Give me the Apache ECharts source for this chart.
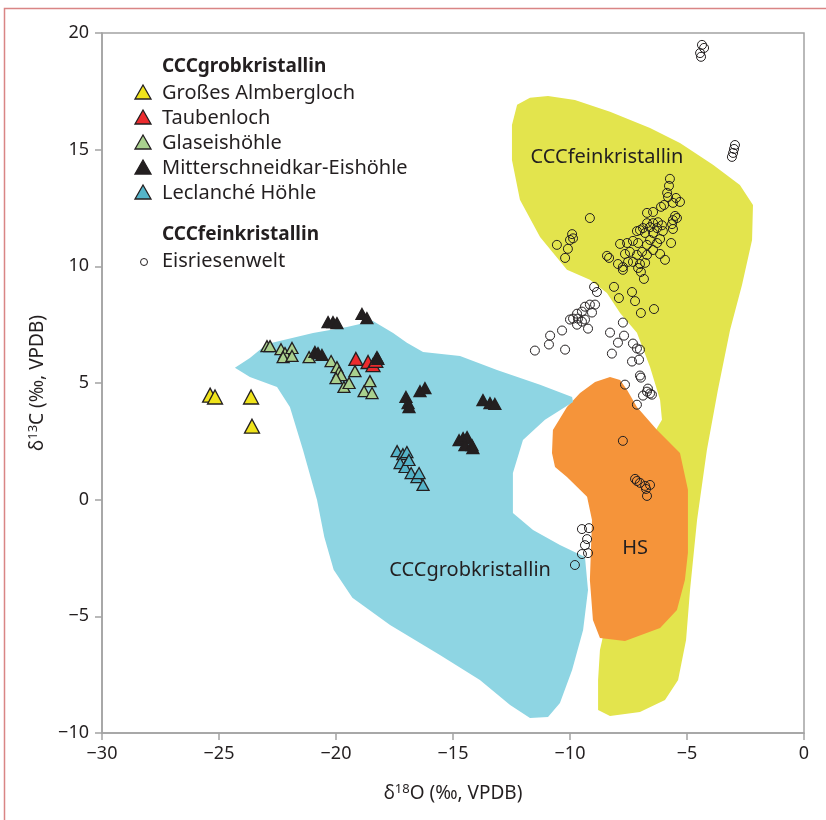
<!DOCTYPE html>
<html><head><meta charset="utf-8">
<script src="https://cdn.jsdelivr.net/npm/echarts@6/dist/echarts.min.js"></script>
<style>html,body{margin:0;padding:0;background:#fff}#c{width:826px;height:820px}</style>
</head><body><div id="c"></div>
<script>
// ---- tick definitions ----
const xTicks = [-30, -25, -20, -15, -10, -5, 0];
const yTicks = [-10, -5, 0, 5, 10, 15, 20];

// ---- regions (data units: δ18O, δ13C) ----
const regionFein = [[-12.26,16.92],[-11.71,17.22],[-10.94,17.30],[-9.79,17.13],[-8.29,16.62],[-6.58,15.93],[-5.30,15.29],[-3.89,14.35],[-2.74,13.49],[-2.18,12.63],[-2.22,11.13],[-2.65,9.20],[-3.16,7.27],[-3.68,4.70],[-4.15,2.13],[-4.57,-0.87],[-4.87,-3.87],[-5.04,-6.01],[-5.38,-7.73],[-5.94,-8.59],[-7.01,-9.10],[-8.29,-9.27],[-8.80,-9.01],[-8.80,-7.73],[-8.72,-6.44],[-7.86,-2.58],[-6.58,2.56],[-6.07,3.42],[-6.15,4.27],[-6.58,5.69],[-7.14,7.15],[-7.86,8.00],[-8.42,8.86],[-9.15,9.42],[-10.13,9.85],[-11.28,11.26],[-12.14,12.85],[-12.48,14.56],[-12.48,16.06]];
const regionHS = [[-8.29,5.26],[-7.86,5.13],[-7.56,4.70],[-7.14,3.97],[-6.28,2.99],[-5.30,2.00],[-4.96,0.42],[-4.96,-2.28],[-5.09,-3.44],[-5.43,-4.73],[-6.15,-5.50],[-7.65,-6.06],[-8.72,-5.93],[-9.02,-5.16],[-9.15,-3.44],[-9.06,-0.87],[-9.27,0.12],[-10.13,0.97],[-10.64,1.40],[-10.77,2.00],[-10.73,2.99],[-10.13,3.97],[-9.57,4.57],[-8.93,5.04]];
const regionGrob = [[-24.32,5.65],[-23.68,6.07],[-22.95,6.67],[-20.98,7.14],[-19.53,7.40],[-18.42,7.66],[-17.56,7.14],[-16.97,6.72],[-16.28,6.33],[-14.70,6.16],[-13.12,5.56],[-11.28,4.92],[-9.91,4.40],[-9.87,4.19],[-11.07,3.42],[-12.01,2.56],[-12.44,1.14],[-12.44,-0.57],[-11.58,-1.30],[-10.43,-1.94],[-9.36,-2.46],[-9.23,-3.87],[-9.44,-5.59],[-9.91,-7.30],[-10.43,-8.71],[-10.94,-9.31],[-11.71,-9.36],[-12.56,-8.80],[-13.85,-7.73],[-15.56,-6.66],[-17.69,-5.37],[-19.30,-4.20],[-20.10,-3.00],[-20.50,-1.60],[-20.81,-0.01],[-21.41,2.13],[-21.97,3.97],[-22.52,4.83],[-23.68,5.26]];

// ---- sample series ----
const grossesAlmbergloch = [[-25.38,4.48],[-25.17,4.40],[-23.63,4.40],[-23.59,3.15]];
const taubenloch = [[-19.15,6.03],[-18.63,5.90],[-18.42,5.77],[-18.30,5.95]];
const glaseishoehle = [[-22.95,6.58],[-22.82,6.58],[-22.35,6.45],[-22.18,6.28],[-21.88,6.50],[-22.26,6.11],[-21.88,6.16],[-21.15,6.11],[-20.21,5.94],[-19.96,5.68],[-19.87,5.47],[-19.79,5.34],[-20.00,5.21],[-19.66,4.83],[-19.44,5.00],[-19.19,5.51],[-18.55,5.08],[-18.80,4.65],[-18.46,4.57]];
const mitterschneidkar = [[-20.34,7.61],[-20.13,7.61],[-19.96,7.57],[-18.89,7.96],[-18.68,7.78],[-20.90,6.33],[-20.77,6.28],[-20.60,6.20],[-18.25,6.11],[-18.21,6.03],[-17.01,4.40],[-16.92,4.14],[-16.88,3.97],[-16.41,4.65],[-16.20,4.78],[-13.72,4.27],[-13.42,4.14],[-13.21,4.10],[-14.74,2.55],[-14.57,2.64],[-14.40,2.68],[-14.49,2.34],[-14.19,2.34],[-14.15,2.21]];
const leclancheHoehle = [[-17.39,2.08],[-17.14,1.95],[-16.97,2.04],[-17.26,1.57],[-17.05,1.40],[-16.88,1.70],[-16.79,1.14],[-16.54,0.97],[-16.45,1.14],[-16.28,0.63]];
const eisriesenwelt = [[-4.36,19.49],[-4.27,19.36],[-4.44,19.14],[-4.40,18.98],[-2.95,15.20],[-2.99,15.03],[-3.03,14.86],[-3.08,14.69],
[-5.73,13.75],[-5.77,13.45],[-5.85,13.15],[-5.81,12.97],[-5.47,12.93],[-5.30,12.76],[-5.60,12.72],[-5.98,12.63],[-6.11,12.55],[-6.45,12.33],[-6.71,12.29],[-5.51,12.16],[-5.43,12.07],[-5.60,11.98],[-5.64,11.81],[-9.15,12.07],[-6.24,11.89],[-6.45,11.85],[-6.71,11.85],[-6.07,11.76],[-6.28,11.64],[-6.58,11.68],[-6.88,11.64],[-5.60,11.60],[-7.14,11.51],[-7.01,11.55],[-6.03,11.51],[-6.45,11.43],[-6.79,11.43],[-9.91,11.38],[-6.15,11.17],[-6.58,11.13],[-7.31,11.09],[-7.56,11.00],[-7.09,11.00],[-9.87,11.20],[-10.00,11.13],[-5.68,11.00],[-7.86,10.96],[-6.28,11.00],[-6.71,10.92],[-10.56,10.92],[-6.45,10.70],[-6.92,10.62],[-7.44,10.62],[-7.65,10.53],[-10.09,10.75],[-6.15,10.53],[-8.42,10.45],[-8.33,10.36],[-6.71,10.49],[-7.14,10.49],[-10.21,10.36],[-7.31,10.19],[-7.52,10.19],[-6.79,10.15],[-5.94,10.28],[-7.95,10.10],[-7.01,10.10],[-7.74,9.97],[-7.74,9.85],[-7.09,9.93],[-6.97,9.76],[-6.84,9.46],
[-8.97,9.12],[-8.85,8.90],[-8.12,9.12],[-7.35,8.90],[-7.91,8.64],[-7.22,8.51],[-6.97,8.00],[-6.41,8.17],[-9.15,8.36],[-9.36,8.27],[-8.93,8.36],[-9.06,8.02],[-9.49,8.06],[-9.70,7.97],[-9.87,7.76],[-9.66,7.76],[-9.49,7.63],[-9.70,7.50],[-10.00,7.72],[-9.36,7.72],[-9.23,7.33],[-10.34,7.25],[-10.85,7.03],[-10.90,6.65],[-11.50,6.39],[-10.21,6.43],[-8.29,7.16],[-7.74,7.59],[-7.69,7.03],[-7.95,6.73],[-8.21,6.26],[-7.31,6.69],[-7.14,6.48],[-7.01,6.43],[-7.35,5.92],[-7.05,6.00],[-7.01,5.32],[-6.97,5.23],[-7.65,4.93],[-6.88,4.46],[-6.67,4.76],[-6.58,4.55],[-6.71,4.63],[-6.50,4.50],[-7.14,4.07],
[-7.74,2.52],[-7.22,0.89],[-7.14,0.80],[-7.01,0.72],[-6.79,0.59],[-6.58,0.63],[-6.75,0.46],[-6.71,0.16],[-9.49,-1.26],[-9.19,-1.22],[-9.27,-1.69],[-9.36,-1.95],[-9.23,-2.29],[-9.49,-2.33],[-9.79,-2.80]];

// ---- labels ----
const regionLabels = [
  {name: 'CCCfeinkristallin', at: [-8.42, 14.69]},
  {name: 'CCCgrobkristallin', at: [-14.27, -3.01]},
  {name: 'HS', at: [-7.22, -2.07]}
];
const legendGroups = [
  {title: 'CCCgrobkristallin', items: ['Großes Almbergloch','Taubenloch','Glaseishöhle','Mitterschneidkar-Eishöhle','Leclanché Höhle']},
  {title: 'CCCfeinkristallin', items: ['Eisriesenwelt']}
];

const FONT = 'Noto Sans';
const TXT = '#231f20';
const triColors = ['#efe31b','#ec2b2e','#a9d08e','#231f20','#55b4c9'];
const triSizes = [[15,14],[14,13],[12,11],[12,11],[12,11]];
const triData = [grossesAlmbergloch, taubenloch, glaseishoehle, mitterschneidkar, leclancheHoehle];

function fmt(v){ return v < 0 ? '\u2212' + Math.abs(v) : String(v); }

function regionSeries(pts, color, z){
  return {
    type: 'custom', coordinateSystem: 'cartesian2d', silent: true, z: z,
    data: [[pts[0][0], pts[0][1]]],
    renderItem: function(params, api){
      return {type: 'polygon', shape: {points: pts.map(p => api.coord(p))}, style: {fill: color}};
    }
  };
}

const series = [
  regionSeries(regionFein, '#e3e44d', 1),
  regionSeries(regionHS, '#f5943a', 2),
  regionSeries(regionGrob, '#8ed5e3', 2),
  {
    type: 'custom', coordinateSystem: 'cartesian2d', silent: true, z: 3,
    data: regionLabels.map(r => r.at),
    renderItem: function(params, api){
      const p = api.coord([api.value(0), api.value(1)]);
      return {type: 'text', style: {text: regionLabels[params.dataIndex].name, x: p[0], y: p[1], align: 'center', verticalAlign: 'middle', fill: TXT, font: '20px "' + FONT + '"'}};
    }
  }
];
triData.forEach((d, i) => {
  series.push({
    type: 'scatter', name: legendGroups[0].items[i], data: d, symbol: 'triangle', symbolSize: triSizes[i], z: 5,
    itemStyle: {color: triColors[i], borderColor: '#231f20', borderWidth: 1.3, opacity: 1}
  });
});
series.push({
  type: 'scatter', name: 'Eisriesenwelt', data: eisriesenwelt, symbol: 'circle', symbolSize: 9, z: 6,
  itemStyle: {color: 'rgba(0,0,0,0)', borderColor: '#231f20', borderWidth: 1, opacity: 1}
});

// ---- legend graphics ----
const graphics = [
  {type: 'rect', shape: {x: 4.5, y: 8.5, width: 900, height: 900}, style: {fill: 'none', stroke: '#d98585', lineWidth: 1.5}, silent: true}
];
const LX = 162, SX = 143;
let y = 67;
legendGroups.forEach((g, gi) => {
  graphics.push({type: 'text', x: LX, y: y, style: {text: g.title, x: 0, y: 0, verticalAlign: 'middle', font: 'bold 19px "' + FONT + '"', fill: TXT}});
  y += 26;
  g.items.forEach((name, ii) => {
    if (gi === 0) {
      graphics.push({type: 'polygon', shape: {points: [[SX, y - 8], [SX - 8, y + 6], [SX + 8, y + 6]]}, style: {fill: triColors[ii], stroke: '#231f20', lineWidth: 1.3}});
    } else {
      graphics.push({type: 'circle', shape: {cx: SX + 1, cy: y + 1, r: 3.5}, style: {fill: 'none', stroke: '#231f20', lineWidth: 1}});
    }
    graphics.push({type: 'text', x: LX, y: y, style: {text: name, x: 0, y: 0, verticalAlign: 'middle', font: '20px "' + FONT + '"', fill: TXT}});
    y += 25;
  });
  y += 17;
});

const chart = echarts.init(document.getElementById('c'), null, {renderer: 'canvas'});
const axisCommon = {
  axisLine: {show: true, onZero: false, lineStyle: {color: '#a3a3a3', width: 1.5}},
  axisTick: {show: true, length: 7, inside: false, lineStyle: {color: '#a3a3a3', width: 1.5}},
  splitLine: {show: false},
  axisLabel: {color: TXT, fontFamily: FONT, fontSize: 18, formatter: fmt},
  nameLocation: 'middle',
  nameTextStyle: {color: TXT, fontFamily: FONT, fontSize: 19, rich: {sup: {fontSize: 13, verticalAlign: 'top', color: TXT, fontFamily: FONT, padding: [0,0,8,0]}, n: {fontSize: 19, color: TXT, fontFamily: FONT}}}
};
chart.setOption({
  animation: false,
  backgroundColor: '#fff',
  grid: {left: 102, right: 22, top: 33, bottom: 87, show: true, borderColor: '#a3a3a3', borderWidth: 1.5},
  xAxis: Object.assign({}, axisCommon, {
    type: 'value', min: -30, max: 0, interval: 5, position: 'bottom',
    name: '{n|\u03B4}{sup|18}{n|O (\u2030, VPDB)}', nameGap: 50,
    axisLabel: Object.assign({}, axisCommon.axisLabel, {margin: 12, customValues: xTicks})
  }),
  yAxis: Object.assign({}, axisCommon, {
    type: 'value', min: -10, max: 20, interval: 5, position: 'left',
    name: '{n|\u03B4}{sup|13}{n|C (\u2030, VPDB)}', nameGap: 48, nameRotate: 90,
    axisLabel: Object.assign({}, axisCommon.axisLabel, {margin: 13, customValues: yTicks})
  }),
  series: series,
  graphic: graphics
});
</script></body></html>
